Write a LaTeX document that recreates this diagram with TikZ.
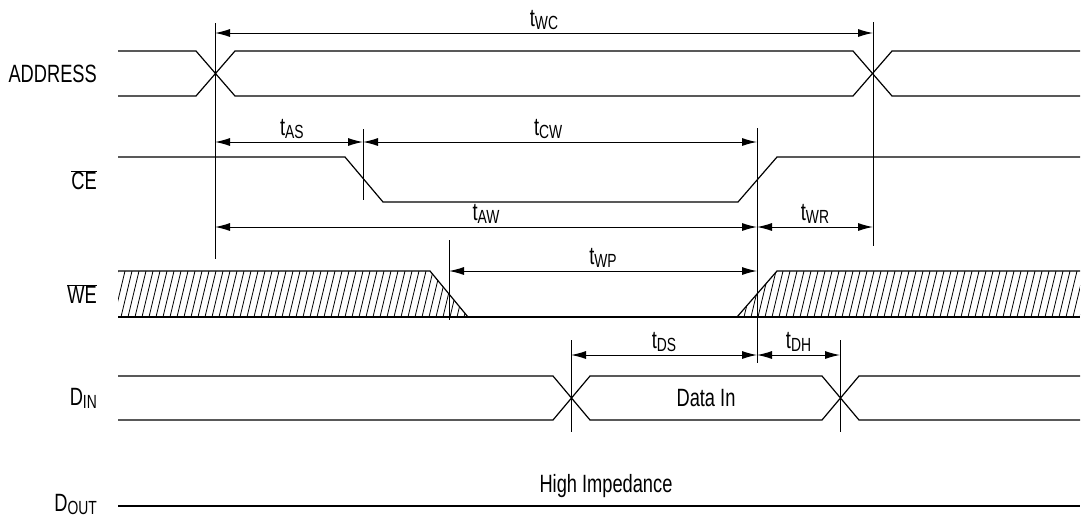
\documentclass[tikz,border=0pt]{standalone}
\usepackage{fontspec}
\setmainfont{Liberation Sans}[FakeStretch=0.73]
\usetikzlibrary{arrows.meta, positioning, calc}
\newcommand{\tsub}[2]{#1\raisebox{-0.12em}{\fontsize{19}{19}\selectfont #2}}
\newcommand{\barsig}[1]{\ensuremath{\overline{\mbox{#1}}}}

\begin{document}
\begin{tikzpicture}[x=1pt, y=-1pt, >={Latex[length=15pt,width=8pt]},
    wave/.style={line width=1.2pt, line join=miter},
    marker/.style={line width=1pt},
    dim/.style={<->, line width=1pt},
    lbl/.style={font=\fontsize{25}{25}\selectfont, inner sep=0pt},
    tlbl/.style={font=\fontsize{25}{25}\selectfont, inner sep=0pt, above=3pt}]
    \useasboundingbox (0,0) rectangle (1085,520);

    % Signal names
    \node[lbl, anchor=east] (addr) at (97,74) {ADDRESS};
    \node[lbl, anchor=east] (ce) at (97,180) {\barsig{CE}};
    \node[lbl, anchor=east] (we) at (97,294) {\barsig{WE}};
    \node[lbl, anchor=east] (din) at (97,398) {\tsub{D}{IN}};
    \node[lbl, anchor=east] (dout) at (97,504) {\tsub{D}{OUT}};

    % Address
    \draw[wave] (118,51) -- (196,51) -- (235,96) -- (853,96) -- (892,51) -- (1080,51);
    \draw[wave] (118,96) -- (196,96) -- (235,51) -- (853,51) -- (892,96) -- (1080,96);

    % Chip enable
    \draw[wave] (118,157) -- (345,157) -- (383,202) -- (738,202) -- (777,157) -- (1080,157);

    % Write enable, hatched where don't care
    \begin{scope}
        \clip (118,271) -- (430,271) -- (468,317) -- (118,317) -- cycle
              (737,317) -- (777,271) -- (1080,271) -- (1080,317) -- cycle;
        \foreach \x in {100,107,...,1090} {
            \draw[line width=0.8pt] (\x,317) -- (\x+11,271);
        }
    \end{scope}
    \draw[wave] (118,271) -- (430,271) -- (468,317);
    \draw[wave] (737,317) -- (777,271) -- (1080,271);
    \draw[wave] (118,317) -- (1080,317);

    % Data in
    \draw[wave] (118,376) -- (553,376) -- (590,420) -- (822,420) -- (859,376) -- (1080,376);
    \draw[wave] (118,420) -- (553,420) -- (590,376) -- (822,376) -- (859,420) -- (1080,420);
    \node[lbl] (datain) at (706,398) {Data In};

    % Data out
    \draw[wave] (118,506) -- (1080,506);
    \node[lbl] (hiz) at (606,486) {High Impedance};

    % Reference lines
    \draw[marker] (215,23) -- (215,259);
    \draw[marker] (873,22) -- (873,246);
    \draw[marker] (363,129) -- (363,200);
    \draw[marker] (757,128) -- (757,363);
    \draw[marker] (449,240) -- (449,320);
    \draw[marker] (571,340) -- (571,432);
    \draw[marker] (840,340) -- (840,432);

    % Edge positions and timing rows
    \coordinate (xA) at (215,0);
    \coordinate (xB) at (873,0);
    \coordinate (xC) at (363,0);
    \coordinate (xD) at (757,0);
    \coordinate (xE) at (449,0);
    \coordinate (xF) at (571,0);
    \coordinate (xG) at (840,0);
    \coordinate (rWC) at (0,33);
    \coordinate (rCW) at (0,142);
    \coordinate (rAW) at (0,227);
    \coordinate (rWP) at (0,271);
    \coordinate (rDS) at (0,355);

    % Timing arrows
    \draw[dim] (xA |- rWC) -- node[tlbl] {\tsub{t}{WC}} (xB |- rWC);
    \draw[dim] (xA |- rCW) -- node[tlbl, pos=0.52] {\tsub{t}{AS}} (xC |- rCW);
    \draw[dim] (xC |- rCW) -- node[tlbl, pos=0.47] {\tsub{t}{CW}} (xD |- rCW);
    \draw[dim] (xA |- rAW) -- node[tlbl] {\tsub{t}{AW}} (xD |- rAW);
    \draw[dim] (xD |- rAW) -- node[tlbl] {\tsub{t}{WR}} (xB |- rAW);
    \draw[dim] (xE |- rWP) -- node[tlbl] {\tsub{t}{WP}} (xD |- rWP);
    \draw[dim] (xF |- rDS) -- node[tlbl] {\tsub{t}{DS}} (xD |- rDS);
    \draw[dim] (xD |- rDS) -- node[tlbl] {\tsub{t}{DH}} (xG |- rDS);
\end{tikzpicture}
\end{document}
